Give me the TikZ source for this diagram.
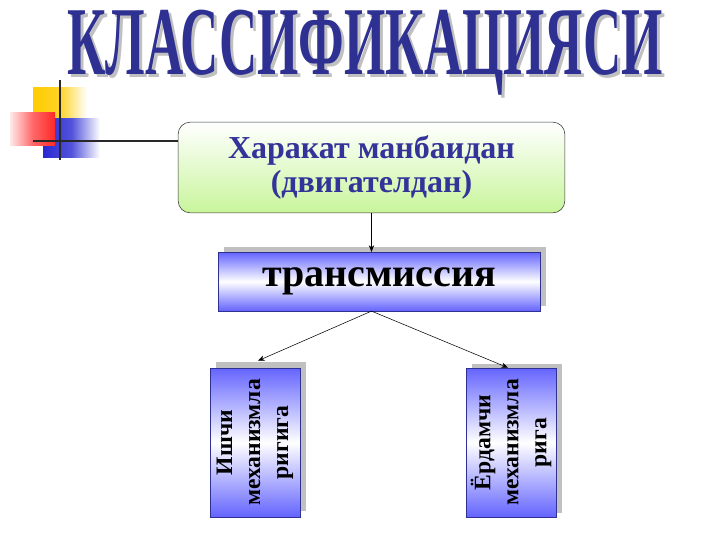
\documentclass[tikz,border=0pt]{standalone}
\usepackage{fontspec}
\setmainfont{Liberation Serif}
\usetikzlibrary{arrows.meta,calc,backgrounds}

\definecolor{titleblue}{RGB}{46,49,146}
\definecolor{textblue}{RGB}{51,51,153}
\definecolor{boxblue}{RGB}{100,100,255}
\definecolor{boxgreen}{RGB}{200,245,155}
\definecolor{shadowgray}{RGB}{192,192,192}
\definecolor{barline}{RGB}{40,40,40}
\definecolor{decoyellow}{RGB}{255,204,0}
\definecolor{decored}{RGB}{255,40,40}
\definecolor{decoblue}{RGB}{40,40,210}

\tikzset{
  titletext/.style={font=\fontsize{73}{73}\selectfont\bfseries, xscale=0.545, inner sep=0pt},
  sourcebox/.style={draw=black!80, rounded corners=9pt, top color=white, bottom color=boxgreen,
    minimum width=290pt, minimum height=68pt, align=center, text=textblue,
    font=\fontsize{24}{25}\selectfont\bfseries},
  transbox/.style={draw=titleblue, top color=boxblue, bottom color=boxblue, middle color=white,
    minimum width=241.5pt, minimum height=44pt, font=\fontsize{30}{30}\selectfont\bfseries},
  mechbox/.style={draw=titleblue, rotate=90, top color=boxblue, bottom color=boxblue, middle color=white,
    minimum width=111.75pt, minimum height=67.5pt, inner sep=0pt, align=center,
    font=\fontsize{17.7}{21}\selectfont\bfseries},
  link/.style={-{Stealth[length=5pt,width=4pt]}, black, thin}
}

\begin{document}
\begin{tikzpicture}[x=0.75pt,y=0.75pt,yscale=-1,xscale=1]
\useasboundingbox (0,0) rectangle (720,540);
% corner decoration
\shade[left color=decoyellow, right color=white, middle color=decoyellow!85] (33,87) rectangle (87,118);
\shade[left color=decoblue, right color=white, middle color=decoblue!80] (43,118) rectangle (100,157);
\shade[left color=decored!10, right color=decored, middle color=decored!70] (10,112) rectangle (55,145);
\draw[barline, line width=1.5pt] (60,80) -- (60,160);
\coordinate (barL) at (33,141);

% title
\node[titletext, text=shadowgray] (titleshadow) at (368,56) {КЛАССИФИКАЦИЯСИ};
\node[titletext, text=titleblue] (title) at (365,53) {КЛАССИФИКАЦИЯСИ};

% boxes
\node[sourcebox] (source) at (371.5,167.5) {Харакат манбаидан\\(двигателдан)};
\node[transbox] (trans) at (379,281.5) {трансмиссия};
\node[mechbox] (left) at (255,442.5) {Ишчи\\механизмла\\ригига};
\node[mechbox] (right) at (511,442.5) {Ёрдамчи\\механизмла\\рига};

\begin{scope}[on background layer]
\fill[shadowgray] ($(trans.south west)+(6,-5)$) rectangle ($(trans.north east)+(6,-5)$);
\fill[shadowgray] ($(left.south west)+(6,-6)$) rectangle ($(left.north east)+(6,-6)$);
\fill[shadowgray] ($(right.south west)+(6,-4)$) rectangle ($(right.north east)+(6,-4)$);
\end{scope}

% connectors
\draw[barline, line width=1.5pt] (barL) -- (barL -| source.west);
\draw[link] (source.south) -- (source.south |- trans.north);
\coordinate (split) at (trans.south -| source.south);
\draw[link] (split) -- ($(left.east)+(3,-7)$);
\draw[link] (split) -- ($(right.east)+(-3,0)$);
\end{tikzpicture}
\end{document}
